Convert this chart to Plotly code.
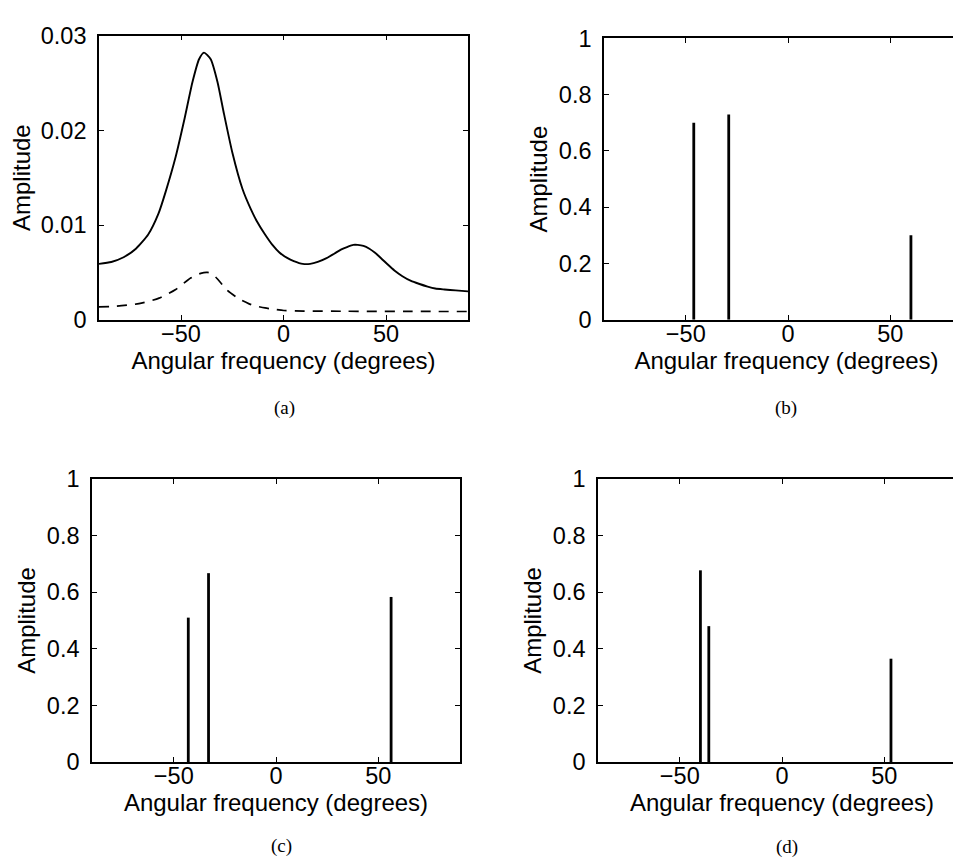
import plotly.graph_objects as go

# ---------------- data ----------------
# panel (a): smooth spectra
a_freq = [-90, -84, -78, -72, -66, -61, -57.5, -52.6, -48.5, -44.4, -41.2, -38.8, -35.5,
          -32.2, -29.0, -24.9, -20.0, -16, -13, -9, -5.4, -2, 2, 5, 9.4, 13, 16.7, 21, 24.9,
          28, 31.3, 34, 36.2, 39, 41.9, 44.5, 47.6, 51, 54.1, 58, 62.2, 66, 70.3, 74, 78.5,
          84, 90]
a_solid = [0.0059, 0.0061, 0.0066, 0.0075, 0.0090, 0.0112, 0.0135, 0.0172, 0.0210, 0.0251,
           0.0275, 0.0282, 0.0275, 0.0251, 0.0217, 0.0176, 0.0138, 0.0117, 0.0104, 0.0090,
           0.0079, 0.0071, 0.0065, 0.0062, 0.0059, 0.0059, 0.0061, 0.0065, 0.0070, 0.0074,
           0.0077, 0.0079, 0.0079, 0.0078, 0.0075, 0.0071, 0.0065, 0.0058, 0.0052, 0.0046,
           0.0041, 0.0038, 0.0035, 0.0033, 0.0032, 0.0031, 0.0030]
a_dash_freq = [-90, -81.9, -70.5, -60.7, -52.6, -45.3, -40.4, -37.1, -34.5, -32.2, -27.4,
               -21.7, -17, -13.6, -9, -5.4, 0.2, 10, 30, 60, 90]
a_dashed = [0.00136, 0.00143, 0.0017, 0.00228, 0.0032, 0.0044, 0.0049, 0.0050, 0.0048, 0.0043,
            0.0031, 0.0022, 0.0017, 0.00146, 0.00125, 0.00113, 0.00098, 0.00092, 0.0009,
            0.00088, 0.00087]

# panels (b)-(d): line spectra (frequency, amplitude)
b_freq = [-46.1, -29.0, 60.1]
b_amp = [0.70, 0.73, 0.30]
c_freq = [-42.9, -33.0, 56.3]
c_amp = [0.51, 0.667, 0.583]
d_freq = [-39.9, -35.8, 53.3]
d_amp = [0.677, 0.48, 0.365]

a_yticks = [0, 0.01, 0.02, 0.03]
a_yticktext = ["0", "0.01", "0.02", "0.03"]
s_yticks = [0, 0.2, 0.4, 0.6, 0.8, 1]
s_yticktext = ["0", "0.2", "0.4", "0.6", "0.8", "1"]
xticks = [-50, 0, 50]
captions = ["(a)", "(b)", "(c)", "(d)"]
xlabel = "Angular frequency (degrees)"
ylabel = "Amplitude"

# ---------------- figure ----------------
W, H = 961, 867
FONT = "Liberation Sans, Arial, Helvetica, sans-serif"


def stems(xs, ys):
    sx, sy = [], []
    for x, y in zip(xs, ys):
        sx += [x, x, None]
        sy += [0, y, None]
    return sx, sy


fig = go.Figure()
fig.add_trace(go.Scatter(x=a_freq, y=a_solid, mode="lines",
                         line=dict(color="black", width=1.9, shape="spline", smoothing=0.6),
                         xaxis="x", yaxis="y", showlegend=False))
fig.add_trace(go.Scatter(x=a_dash_freq, y=a_dashed, mode="lines",
                         line=dict(color="black", width=1.7, dash="10px,8px", shape="spline", smoothing=0.6),
                         xaxis="x", yaxis="y", showlegend=False))
for i, (fx, fy) in enumerate([(b_freq, b_amp), (c_freq, c_amp), (d_freq, d_amp)], start=2):
    sx, sy = stems(fx, fy)
    fig.add_trace(go.Scatter(x=sx, y=sy, mode="lines", line=dict(color="black", width=2.8),
                             xaxis=f"x{i}", yaxis=f"y{i}", showlegend=False))

# panel boxes in pixels: left, right, top, bottom
boxes = [(91, 460, 15, 308), (596, 961, 18, 308), (84, 452, 472, 764), (590, 958, 472, 764)]
xranges = [[-90, 90], [-90, 88.5], [-90, 90], [-90, 90]]
yranges = [[0, 0.03], [0, 1], [0, 1], [0, 1]]

axis_common = dict(showline=True, linecolor="black", linewidth=1.6, ticks="inside", ticklen=5,
                   tickwidth=1.3, tickcolor="black", showgrid=False, zeroline=False,
                   tickfont=dict(family=FONT, size=23.5, color="black"))

layout = dict(width=W, height=H, margin=dict(l=0, r=0, t=0, b=0), paper_bgcolor="white",
              plot_bgcolor="white", showlegend=False)
for k, ((l, r, t, b), xr, yr) in enumerate(zip(boxes, xranges, yranges)):
    sfx = "" if k == 0 else str(k + 1)
    xa = dict(axis_common, domain=[l / W, r / W], range=xr, tickvals=xticks,
              anchor="y" + sfx, mirror="ticks", ticklabelstandoff=-8,
              title=dict(text=xlabel, font=dict(family=FONT, size=24, color="black"), standoff=0))
    ya = dict(axis_common, domain=[1 - b / H, 1 - t / H], range=yr, anchor="x" + sfx,
              mirror=("ticks" if k != 1 else False),
              tickvals=a_yticks if k == 0 else s_yticks,
              ticktext=a_yticktext if k == 0 else s_yticktext,
              ticklabelstandoff=6,
              title=dict(text=ylabel, font=dict(family=FONT, size=24, color="black"), standoff=4))
    layout["xaxis" + sfx] = xa
    layout["yaxis" + sfx] = ya

cap_pos = [(276, 399), (778, 399), (273, 850), (779, 852)]
layout["annotations"] = [dict(text=c, x=px / W, y=1 - py / H, xref="paper", yref="paper",
                              showarrow=False, xanchor="center", yanchor="middle",
                              font=dict(family="Liberation Serif, Times New Roman, serif", size=19, color="black"))
                         for c, (px, py) in zip(captions, cap_pos)]

fig.update_layout(**layout)
fig.write_html("out.html")
